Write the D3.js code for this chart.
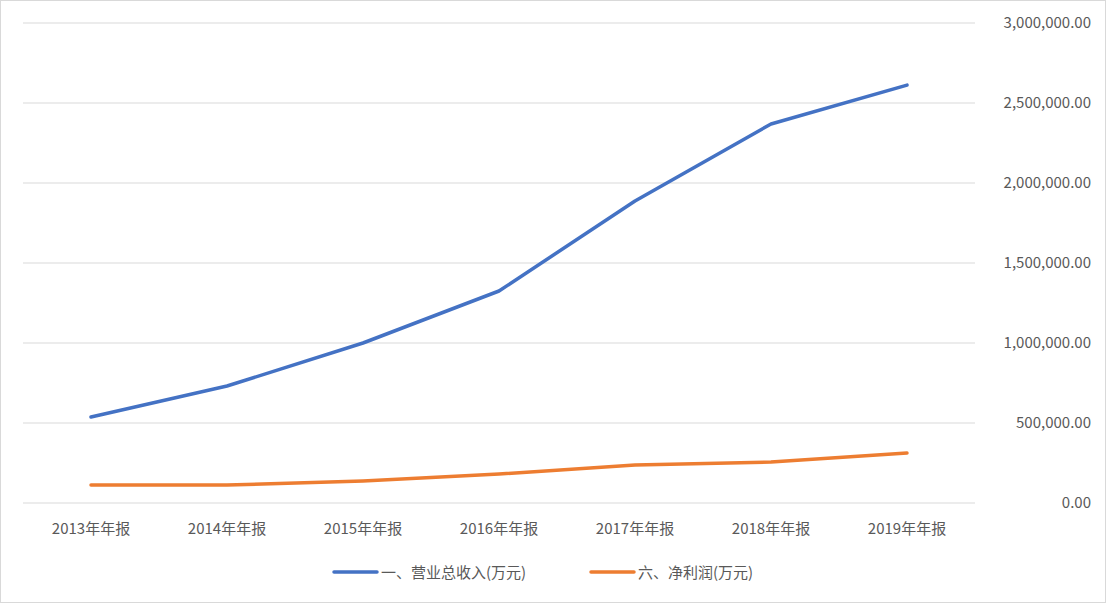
<!DOCTYPE html>
<html><head><meta charset="utf-8">
<script src="https://cdn.jsdelivr.net/npm/d3@7"></script>
<style>body{margin:0;background:#fff}svg{display:block}text{font-family:"Noto Sans CJK SC","Microsoft YaHei",sans-serif;fill:#595959}</style>
</head><body><svg id="c" width="1106" height="603"></svg>
<script>
const categories=["2013年年报","2014年年报","2015年年报","2016年年报","2017年年报","2018年年报","2019年年报"];
const revenue=[537500,731000,1000000,1325000,1887000,2369000,2612000];
const profit=[112500,112500,137500,181000,237500,256000,312500];
const tickValues=[0,500000,1000000,1500000,2000000,2500000,3000000];
const seriesNames=["一、营业总收入(万元)","六、净利润(万元)"];
const colors=["#4472c4","#ed7d31"];

const svg=d3.select("#c");
svg.append("rect").attr("x",0.5).attr("y",0.5).attr("width",1105).attr("height",602).attr("fill","#fff").attr("stroke","#d9d9d9");
const x=d3.scaleBand().domain(categories).range([23,975]);
const y=d3.scaleLinear().domain([0,3000000]).range([503,23]);
const fmt=d3.format(",.2f");
svg.append("g").selectAll("line").data(tickValues).join("line")
 .attr("x1",23).attr("x2",975).attr("y1",d=>y(d)).attr("y2",d=>y(d))
 .attr("stroke",(d)=>d===0?"#d9d9d9":"#d9d9d9").attr("stroke-width",1);
svg.append("g").selectAll("text").data(tickValues).join("text")
 .attr("x",1091).attr("y",d=>y(d)+5).attr("text-anchor","end").attr("font-size",15).text(d=>fmt(d));
svg.append("g").selectAll("text").data(categories).join("text")
 .attr("x",d=>x(d)+x.bandwidth()/2).attr("y",534).attr("text-anchor","middle").attr("font-size",15).text(d=>d);
const line=d3.line().x((d,i)=>x(categories[i])+x.bandwidth()/2).y(d=>y(d));
[revenue,profit].forEach((s,i)=>{
 svg.append("path").datum(s).attr("d",line).attr("fill","none").attr("stroke",colors[i]).attr("stroke-width",3.5).attr("stroke-linecap","round").attr("stroke-linejoin","round");
});
const lg=[{x:334,name:seriesNames[0],c:colors[0]},{x:591,name:seriesNames[1],c:colors[1]}];
lg.forEach(l=>{
 svg.append("line").attr("x1",l.x).attr("x2",l.x+43).attr("y1",572).attr("y2",572).attr("stroke",l.c).attr("stroke-width",3.5).attr("stroke-linecap","round");
 svg.append("text").attr("x",l.x+47).attr("y",578).attr("font-size",15).text(l.name);
});
</script></body></html>
